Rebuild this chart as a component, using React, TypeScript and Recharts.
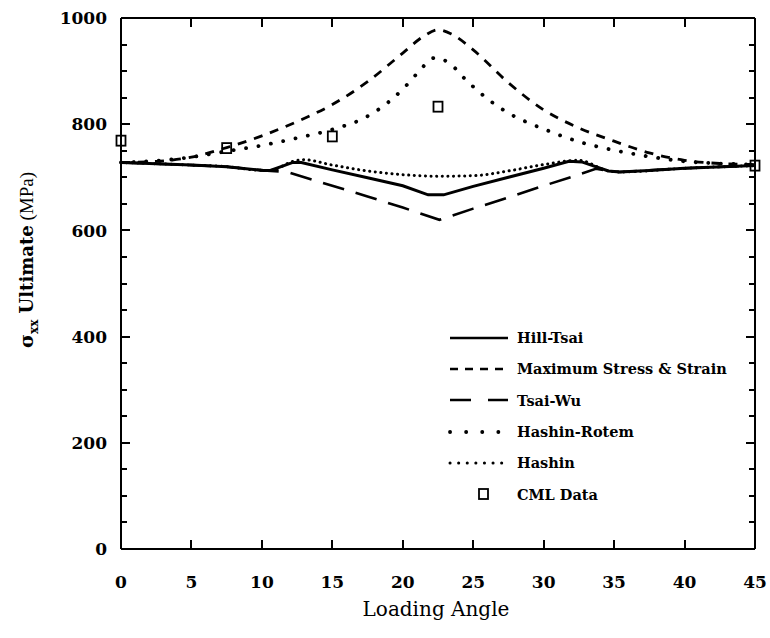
import { ComposedChart, Line, Scatter, XAxis, YAxis, Legend } from "recharts";

const xTicks = [0, 5, 10, 15, 20, 25, 30, 35, 40, 45];
const yTicks = [
  0, 50, 100, 150, 200, 250, 300, 350, 400, 450, 500, 550, 600, 650, 700, 750,
  800, 850, 900, 950, 1000,
];

// loading angle (deg) / sigma_xx ultimate (MPa)
const hillTsaiAngle = [0, 5, 7.5, 10.1, 10.6, 12.2, 12.8, 15, 17.5, 20, 21.8, 22.9, 25, 27.5, 30, 31.8, 32.7, 34.6, 35.4, 37.5, 40, 45];
const hillTsaiStress = [728, 723, 720, 713, 713, 728, 728, 714, 699, 684, 667, 667, 683, 700, 717, 730, 729, 712, 710, 713, 717, 722];

const maxStressAngle = [0, 2.5, 5, 7.5, 10, 12.5, 15, 17.5, 20, 21.5, 22.5, 23.5, 25, 27.5, 30, 32.5, 35, 37.5, 40, 42.5, 45];
const maxStressStress = [728, 730, 738, 756, 778, 805, 837, 880, 934, 966, 978, 969, 940, 878, 827, 793, 768, 746, 732, 726, 724];

const tsaiWuAngle = [0, 5, 7.5, 10.1, 11.8, 15, 17.5, 20, 22.6, 25, 27.5, 30, 32, 33.7, 34.6, 35.4, 40, 45];
const tsaiWuStress = [728, 723, 720, 713, 710, 684, 664, 643, 620, 641, 662, 684, 701, 716, 712, 710, 717, 722];

const hashinRotemAngle = [0, 2.5, 5, 7.5, 10, 12.5, 15, 17.5, 19, 20, 21, 22.3, 23.3, 24.5, 26, 27.5, 30, 32.5, 35, 37.5, 40, 42.5, 45];
const hashinRotemStress = [728, 731, 738, 749, 760, 774, 790, 815, 842, 866, 895, 925, 915, 883, 848, 821, 791, 767, 751, 739, 730, 726, 724];

const hashinAngle = [0, 5, 7.5, 10.1, 10.6, 12.2, 13, 15, 17.5, 20, 22.5, 25, 27.5, 30, 32.5, 34.6, 35.4, 40, 45];
const hashinStress = [728, 723, 720, 713, 713, 730, 733, 723, 712, 705, 702, 703, 712, 724, 732, 712, 710, 717, 722];

const cmlAngle = [0, 7.5, 15, 22.5, 45];
const cmlStress = [769, 755, 777, 833, 722];

const toPoints = (a: number[], s: number[]) => a.map((x, i) => ({ x, y: s[i] }));

const hillTsai = toPoints(hillTsaiAngle, hillTsaiStress);
const maxStress = toPoints(maxStressAngle, maxStressStress);
const tsaiWu = toPoints(tsaiWuAngle, tsaiWuStress);
const hashinRotem = toPoints(hashinRotemAngle, hashinRotemStress);
const hashin = toPoints(hashinAngle, hashinStress);
const cml = toPoints(cmlAngle, cmlStress);

const serif = "'DejaVu Serif', serif";
const tickStyle = { fontFamily: serif, fontSize: 17, fontWeight: "bold", fill: "#000" };

// chart box
const W = 770;
const H = 638;
const MARGIN = { top: 17, right: 14, left: 0, bottom: 0 };
const LEFT_W = 121;
const BOTTOM_H = 89;
const PLOT_W = W - MARGIN.left - MARGIN.right - LEFT_W - 1;
const PLOT_H = H - MARGIN.top - MARGIN.bottom - BOTTOM_H - 1;

// ticks point inward, on all four sides; the mirrored top/right ones are drawn
// together with the bottom/left ticks
const BOTTOM_GAP = 27;
const LEFT_GAP = 14;
const TICK_W = 2;

const tickPath = (d: string) => (
  <path d={d} stroke="#000" strokeWidth={TICK_W} fill="none" shapeRendering="crispEdges" />
);

const BottomTick = (props: any) => {
  const x = Number(props.x);
  const y = Number(props.y);
  const base = y - BOTTOM_GAP;
  const top = base - PLOT_H;
  return (
    <g>
      {tickPath(`M${x},${base}V${base - 9}`)}
      {tickPath(`M${x},${top}V${top + 9}`)}
      <text x={x} y={y} dy="0.71em" textAnchor="middle" {...tickStyle}>
        {props.payload.value}
      </text>
    </g>
  );
};

const LeftTick = (props: any) => {
  const x = Number(props.x);
  const y = Number(props.y);
  const base = x + LEFT_GAP;
  const right = base + PLOT_W;
  const major = props.payload.value % 200 === 0;
  const len = major ? 9 : 6;
  return (
    <g>
      {tickPath(`M${base},${y}H${base + len}`)}
      {tickPath(`M${right},${y}H${right - len}`)}
      {major && (
        <text x={x} y={y} dy="0.36em" textAnchor="end" {...tickStyle}>
          {props.payload.value}
        </text>
      )}
    </g>
  );
};

const NoTick = () => <g />;

const yLabel = () => (
  <text transform="rotate(-90)" x={-260} y={33} textAnchor="middle" fontFamily={serif} fontSize={18} fill="#000">
    <tspan fontWeight="bold" fontSize={19}>σ</tspan>
    <tspan fontWeight="bold" fontSize={12} dy={5}>xx</tspan>
    <tspan fontWeight="bold" dy={-5}> Ultimate</tspan>
    <tspan fontFamily="'Liberation Serif', serif" fontSize={19}> (MPa)</tspan>
  </text>
);

const xLabel = () => (
  <text x={436} y={616} textAnchor="middle" fontFamily={serif} fontSize={20} fill="#000">
    Loading Angle
  </text>
);

const legendRows = [
  { name: "Hill-Tsai", dash: undefined as string | undefined, width: 2.5, cap: "butt" },
  { name: "Maximum Stress & Strain", dash: "8 7", width: 2.5, cap: "butt" },
  { name: "Tsai-Wu", dash: "21 17", width: 2.5, cap: "butt" },
  { name: "Hashin-Rotem", dash: "0.1 16", width: 3.8, cap: "round" },
  { name: "Hashin", dash: "0.1 8.5", width: 3, cap: "round" },
  { name: "CML Data", dash: "marker", width: 1.8, cap: "butt" },
];

const renderLegend = () => (
  <div style={{ fontFamily: serif, fontWeight: "bold", fontSize: 14.5, color: "#000" }}>
    {legendRows.map((r) => (
      <div key={r.name} style={{ display: "flex", alignItems: "center", height: 31.3 }}>
        <svg width={62} height={14}>
          {r.dash === "marker" ? (
            <rect x={31} y={2} width={9} height={10} fill="none" stroke="#000" strokeWidth={r.width} />
          ) : (
            <line
              x1={2}
              y1={7}
              x2={60}
              y2={7}
              stroke="#000"
              strokeWidth={r.width}
              strokeDasharray={r.dash}
              strokeLinecap={r.cap as any}
            />
          )}
        </svg>
        <span style={{ marginLeft: 7, whiteSpace: "nowrap" }}>{r.name}</span>
      </div>
    ))}
  </div>
);

const square = (props: any) => (
  <rect x={props.cx - 4.5} y={props.cy - 5} width={9} height={10} fill="none" stroke="#000" strokeWidth={1.8} />
);

export default function App() {
  return (
    <div style={{ position: "relative", width: W, height: H, background: "#fff" }}>
      <style>{"body{margin:0}"}</style>
      <ComposedChart width={W} height={H} margin={MARGIN}>
        <XAxis
          xAxisId="b"
          dataKey="x"
          type="number"
          domain={[0, 45]}
          ticks={xTicks}
          interval={0}
          height={BOTTOM_H}
          tickSize={0}
          tickMargin={BOTTOM_GAP}
          tick={<BottomTick />}
          tickLine={false}
          axisLine={{ stroke: "#000", strokeWidth: 2 }}
          label={xLabel}
        />
        <XAxis
          xAxisId="t"
          orientation="top"
          dataKey="x"
          type="number"
          domain={[0, 45]}
          ticks={xTicks}
          interval={0}
          height={1}
          tickSize={0}
          tickMargin={0}
          tick={<NoTick />}
          tickLine={false}
          axisLine={{ stroke: "#000", strokeWidth: 2 }}
        />
        <YAxis
          yAxisId="l"
          dataKey="y"
          type="number"
          domain={[0, 1000]}
          ticks={yTicks}
          interval={0}
          width={LEFT_W}
          tickSize={0}
          tickMargin={LEFT_GAP}
          tick={<LeftTick />}
          tickLine={false}
          axisLine={{ stroke: "#000", strokeWidth: 2 }}
          label={yLabel}
        />
        <YAxis
          yAxisId="r"
          orientation="right"
          dataKey="y"
          type="number"
          domain={[0, 1000]}
          ticks={yTicks}
          interval={0}
          width={1}
          tickSize={0}
          tickMargin={0}
          tick={<NoTick />}
          tickLine={false}
          axisLine={{ stroke: "#000", strokeWidth: 2 }}
        />
        <Legend
          layout="horizontal"
          verticalAlign="middle"
          align="center"
          wrapperStyle={{ left: 448, top: 322, width: 320 }}
          content={renderLegend}
        />
        <Line
          xAxisId="b"
          yAxisId="l"
          data={tsaiWu}
          dataKey="y"
          type="linear"
          stroke="#000"
          strokeWidth={2.6}
          strokeDasharray="22 12"
          dot={false}
          isAnimationActive={false}
        />
        <Line
          xAxisId="b"
          yAxisId="l"
          data={hashin}
          dataKey="y"
          type="monotone"
          stroke="#000"
          strokeWidth={3}
          strokeDasharray="0.1 5.5"
          strokeLinecap="round"
          dot={false}
          isAnimationActive={false}
        />
        <Line
          xAxisId="b"
          yAxisId="l"
          data={hashinRotem}
          dataKey="y"
          type="monotone"
          stroke="#000"
          strokeWidth={3.8}
          strokeDasharray="0.1 12.5"
          strokeLinecap="round"
          dot={false}
          isAnimationActive={false}
        />
        <Line
          xAxisId="b"
          yAxisId="l"
          data={maxStress}
          dataKey="y"
          type="monotone"
          stroke="#000"
          strokeWidth={2.8}
          strokeDasharray="9 8"
          dot={false}
          isAnimationActive={false}
        />
        <Line
          xAxisId="b"
          yAxisId="l"
          data={hillTsai}
          dataKey="y"
          type="linear"
          stroke="#000"
          strokeWidth={3}
          dot={false}
          isAnimationActive={false}
        />
        <Scatter
          xAxisId="b"
          yAxisId="l"
          data={cml}
          dataKey="y"
          shape={square}
          isAnimationActive={false}
        />
      </ComposedChart>
    </div>
  );
}
